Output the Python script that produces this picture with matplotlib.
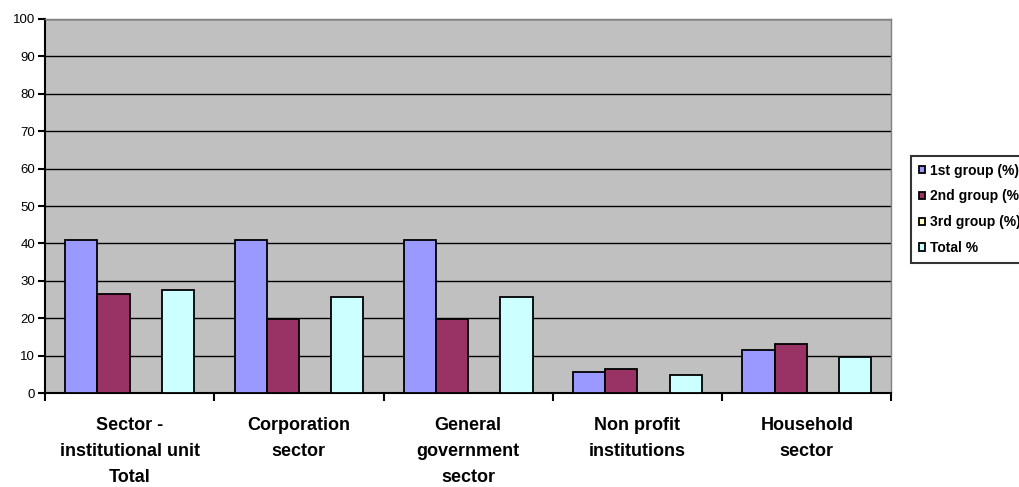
import matplotlib
matplotlib.use("Agg")
import matplotlib.pyplot as plt
import numpy as np

plt.rcParams['font.family'] = ['Liberation Sans', 'DejaVu Sans']

categories = ["Sector -\ninstitutional unit\nTotal", "Corporation\nsector",
              "General\ngovernment\nsector", "Non profit\ninstitutions", "Household\nsector"]
series_names = ["1st group (%)", "2nd group (%)", "3rd group (%)", "Total %"]
group1 = [41.0, 41.0, 41.0, 5.7, 11.6]
group2 = [26.6, 19.7, 19.7, 6.3, 13.2]
group3 = [0, 0, 0, 0, 0]
total = [27.6, 25.7, 25.7, 4.7, 9.5]
colors = ["#9999FF", "#993366", "#FFFFCC", "#CCFFFF"]

fig = plt.figure(figsize=(10.2, 4.87), dpi=100)
ax = fig.add_axes([0.044, 0.193, 0.830, 0.768])
ax.set_facecolor("#C0C0C0")

x = np.arange(len(categories))
w = 0.19
data = [group1, group2, group3, total]
handles = []
for k, vals in enumerate(data):
    pos = x - 1.5 * w + k * w
    vals = np.array(vals)
    h = ax.bar(pos, vals, width=w, color=colors[k], edgecolor="black",
               linewidth=1.3, zorder=3, label=series_names[k])
    for patch, v in zip(h.patches, vals):
        if v == 0:
            patch.set_visible(False)
    handles.append(h)

ax.set_xlim(-0.5, len(categories) - 0.5)
ax.set_ylim(0, 100)
ax.set_yticks(range(0, 101, 10))
ax.yaxis.grid(True, color="black", linewidth=1.0, zorder=1)
ax.set_axisbelow(True)

ax.set_xticks(x)
ax.set_xticklabels(categories, fontsize=13, fontweight="bold", linespacing=1.72)
ax.tick_params(axis="x", length=0, pad=17)
ax.set_xticks(np.arange(len(categories) + 1) - 0.5, minor=True)
ax.tick_params(axis="x", which="minor", length=6, width=1.5, direction="out")
ax.tick_params(axis="y", labelsize=9.5, length=5, width=1.5, direction="out", pad=2)

for s in ["top", "right"]:
    ax.spines[s].set_color("#808080")
    ax.spines[s].set_linewidth(1.0)
for s in ["left", "bottom"]:
    ax.spines[s].set_color("black")
    ax.spines[s].set_linewidth(1.5)

leg = fig.legend(handles=handles, labels=series_names, loc="upper left",
                 bbox_to_anchor=(911 / 1020, 1 - 156 / 487),
                 prop={"size": 10, "weight": "bold"}, frameon=True, fancybox=False,
                 handlelength=0.45, handleheight=0.45, handletextpad=0.4,
                 labelspacing=0.85, borderpad=0.55, borderaxespad=0)
leg.get_frame().set_edgecolor("black")
leg.get_frame().set_linewidth(1.5)
for p in leg.get_patches():
    p.set_visible(True)

fig.savefig("out.png", dpi=100)
